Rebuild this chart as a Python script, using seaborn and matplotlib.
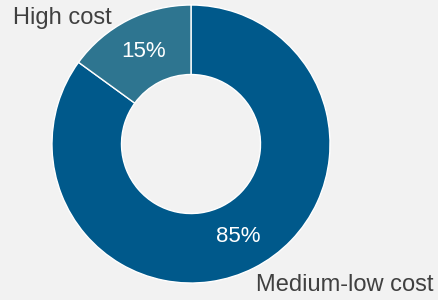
import matplotlib
matplotlib.use('Agg')
import matplotlib.pyplot as plt
import seaborn as sns

# data
categories = ['Medium-low cost', 'High cost']
shares = [85, 15]
colors = ['#00598b', '#2e7590']

sns.set_theme(style='white')
plt.rcParams['font.family'] = ['Liberation Sans', 'DejaVu Sans']

bg = '#f2f2f2'
fig = plt.figure(figsize=(4.39, 3.0), dpi=100, facecolor=bg)
ax = fig.add_axes([0, 0, 1, 1])
ax.set_facecolor(bg)

wedges, _, autotexts = ax.pie(
    shares, colors=colors, startangle=90, counterclock=False,
    autopct='%d%%', pctdistance=0.75,
    wedgeprops=dict(width=0.5, edgecolor='white', linewidth=1),
    textprops=dict(color='white', fontsize=16),
)

ax.set_aspect('equal')
ax.set_xlim(-1.374, 1.784)
ax.set_ylim(-1.122, 1.036)
ax.axis('off')

# outside category labels
ax.text(0.03, 0.94, categories[1], transform=ax.transAxes, ha='left', va='center',
        fontsize=17, color='#404040')
ax.text(0.987, 0.05, categories[0], transform=ax.transAxes, ha='right', va='center',
        fontsize=17, color='#404040')

fig.savefig('out.png', dpi=100, facecolor=bg)
